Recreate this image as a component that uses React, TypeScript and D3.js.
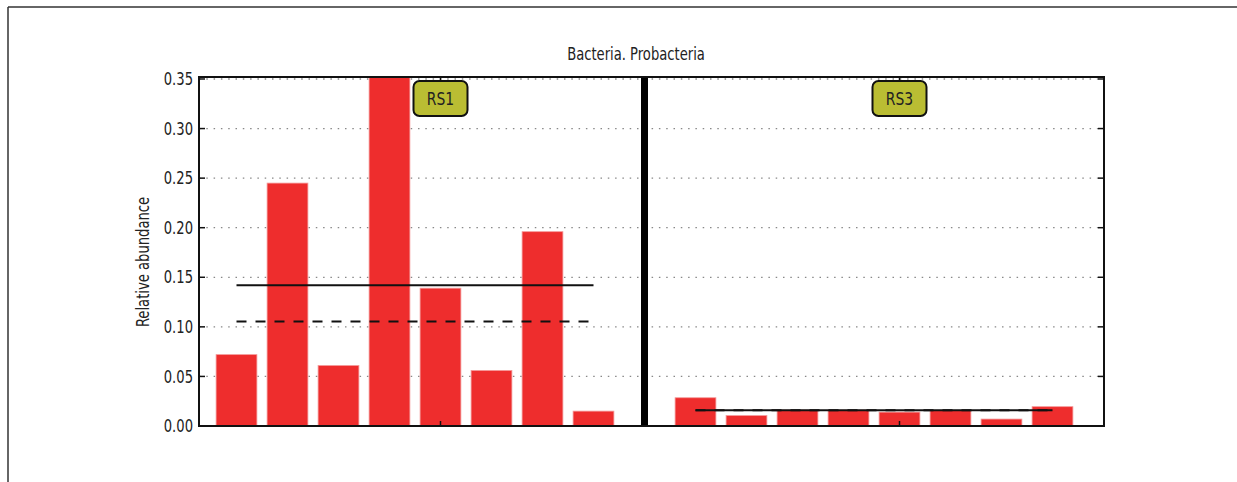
import React from "react";
import * as d3 from "d3";

const title = "Bacteria. Probacteria";
const yLabel = "Relative abundance";
const groups = ["RS1", "RS3"];
const samples = ["1", "2", "3", "4", "5", "6", "7", "8"];
const rs1Values = [0.072, 0.245, 0.061, 0.352, 0.139, 0.056, 0.196, 0.015];
const rs3Values = [0.0285, 0.0105, 0.016, 0.016, 0.014, 0.0158, 0.007, 0.0195];
const yTicks = [0, 0.05, 0.1, 0.15, 0.2, 0.25, 0.3, 0.35];

const W = 1237;
const H = 482;
const FONT = "'Liberation Sans Narrow', 'DejaVu Sans Condensed', 'Roboto Condensed', 'Arial Narrow', sans-serif";
const SX = 0.86;

function T({ x, y, rotate = 0, anchor = "middle", size = 17, children }: any) {
  return (
    <text
      transform={`translate(${x},${y}) rotate(${rotate}) scale(${SX},1)`}
      textAnchor={anchor}
      fontSize={size}
      fill="#222"
      dy="0.36em"
    >
      {children}
    </text>
  );
}

export default function App() {
  const plot = { left: 199, right: 1104, top: 77, bottom: 426 };
  const slots = [
    ...samples.map((s) => "RS1-" + s),
    "divider",
    ...samples.map((s) => "RS3-" + s),
  ];
  const x = d3
    .scaleBand<string>()
    .domain(slots)
    .range([211, 1078])
    .paddingInner(0.2)
    .paddingOuter(0.1);
  const y = d3.scaleLinear().domain([0, 0.352]).range([plot.bottom, plot.top]);
  const fmt = d3.format(".2f");

  const groupData = [
    { name: groups[0], keys: samples.map((s) => "RS1-" + s), values: rs1Values },
    { name: groups[1], keys: samples.map((s) => "RS3-" + s), values: rs3Values },
  ];
  const cx = (k: string) => (x(k) as number) + x.bandwidth() / 2;
  const divX = cx("divider");

  return (
    <svg width={W} height={H} style={{ position: "absolute", left: 0, top: 0, background: "#fff" }} fontFamily={FONT}>
      <line x1={8} y1={7} x2={W} y2={7} stroke="#333" strokeWidth={1.5} />
      <line x1={8} y1={7} x2={8} y2={H} stroke="#333" strokeWidth={1.5} />

      <T x={636} y={54} size={17}>{title}</T>

      {yTicks.map((t) => (
        <line key={"g" + t} x1={plot.left} x2={plot.right} y1={y(t)} y2={y(t)} stroke="#888" strokeWidth={1.3} strokeDasharray="1.5,5.8" />
      ))}

      <defs>
        <clipPath id="clip">
          <rect x={plot.left} y={plot.top} width={plot.right - plot.left} height={plot.bottom - plot.top} />
        </clipPath>
      </defs>
      <g clipPath="url(#clip)">
        {groupData.map((g) =>
          g.values.map((v, i) => (
            <rect key={g.name + i} x={x(g.keys[i])} y={y(v)} width={x.bandwidth()} height={y(0) - y(v)} fill="#EE2D2D" stroke="#F49A9A" strokeWidth={0.8} />
          ))
        )}
      </g>

      {groupData.map((g) => {
        const x1 = cx(g.keys[0]);
        const x2 = cx(g.keys[g.keys.length - 1]);
        const m = d3.mean(g.values) as number;
        const md = d3.median(g.values) as number;
        return (
          <g key={"l" + g.name}>
            <line x1={x1} x2={x2} y1={y(md)} y2={y(md)} stroke="#111" strokeWidth={2} strokeDasharray="10,9" />
            <line x1={x1} x2={x2} y1={y(m)} y2={y(m)} stroke="#111" strokeWidth={2} />
          </g>
        );
      })}

      <line x1={divX} x2={divX} y1={plot.top} y2={plot.bottom} stroke="#000" strokeWidth={7} />

      <rect x={plot.left} y={plot.top} width={plot.right - plot.left} height={plot.bottom - plot.top} fill="none" stroke="#111" strokeWidth={2} />

      {yTicks.map((t) => (
        <g key={"t" + t}>
          <line x1={plot.left} x2={plot.left + 6} y1={y(t)} y2={y(t)} stroke="#111" strokeWidth={1.5} />
          <line x1={plot.right} x2={plot.right - 6} y1={y(t)} y2={y(t)} stroke="#111" strokeWidth={1.5} />
          <T x={193} y={y(t)} anchor="end" size={17}>{fmt(t)}</T>
        </g>
      ))}

      {groupData.map((g) => {
        const gx = cx(g.keys[4]);
        return (
          <g key={"x" + g.name}>
            <line x1={gx} x2={gx} y1={plot.bottom} y2={plot.bottom - 5} stroke="#111" strokeWidth={1.5} />
            <line x1={gx} x2={gx} y1={plot.top} y2={plot.top + 5} stroke="#111" strokeWidth={1.5} />
            <rect x={gx - 27} y={81} width={54} height={35} rx={6} fill="#BABD33" stroke="#111" strokeWidth={2} />
            <T x={gx} y={99} size={18}>{g.name}</T>
          </g>
        );
      })}

      <T x={143} y={262} rotate={-90} size={17}>{yLabel}</T>
    </svg>
  );
}
